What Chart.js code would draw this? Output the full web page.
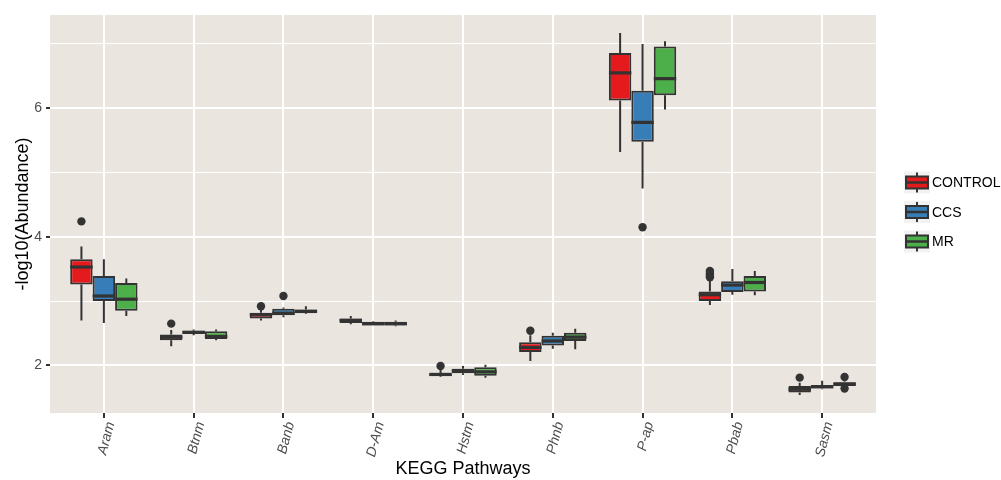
<!DOCTYPE html>
<html><head><meta charset="utf-8">
<script src="https://cdn.jsdelivr.net/npm/chart.js@4"></script>
<style>html,body{margin:0;padding:0;background:#fff}#wrap{width:1001px;height:480px;position:relative}</style>
</head><body><div id="wrap"><canvas id="c" width="1001" height="480"></canvas></div>
<script>
const categories = ['Aram','Btnm','Banb','D-Am','Hstm','Phnb','P-ap','Pbab','Sasm'];
const seriesNames = ['CONTROL','CCS','MR'];
const seriesColors = ['#E41A1C','#377EB8','#4DAF4A'];
const yTicks = [2,3,4,5,6,7];
// each entry: [lower whisker, Q1, median, Q3, upper whisker]
const controlStats = [
  [2.70,3.26,3.53,3.65,3.85],[2.30,2.39,2.44,2.48,2.55],[2.70,2.73,2.79,2.82,2.86],
  [2.64,2.66,2.70,2.73,2.77],[1.82,1.83,1.86,1.88,1.93],[2.07,2.21,2.28,2.36,2.47],
  [5.32,6.12,6.55,6.86,7.17],[2.94,3.00,3.10,3.15,3.33],[1.54,1.58,1.63,1.68,1.73]];
const ccsStats = [
  [2.66,3.00,3.08,3.39,3.65],[2.47,2.49,2.515,2.54,2.56],[2.75,2.78,2.81,2.88,2.90],
  [2.62,2.62,2.65,2.68,2.69],[1.85,1.88,1.92,1.95,1.99],[2.26,2.31,2.38,2.46,2.51],
  [4.75,5.48,5.78,6.27,7.00],[3.10,3.14,3.25,3.31,3.50],[1.63,1.64,1.67,1.69,1.76]];
const mrStats = [
  [2.77,2.85,3.03,3.28,3.35],[2.39,2.41,2.45,2.53,2.56],[2.80,2.81,2.84,2.87,2.92],
  [2.61,2.62,2.65,2.68,2.70],[1.81,1.84,1.90,1.97,2.01],[2.25,2.38,2.44,2.51,2.57],
  [5.98,6.20,6.46,6.96,7.04],[3.09,3.15,3.29,3.39,3.47],[1.68,1.68,1.71,1.74,1.75]];
const controlOutliers = [[4.24],[2.65],[2.92],[],[1.99],[2.54],[],[3.37,3.40,3.43,3.47],[1.81]];
const ccsOutliers = [[],[],[3.08],[],[],[],[4.15],[],[]];
const mrOutliers = [[],[],[],[],[],[],[],[],[1.82,1.64]];

const allStats = [controlStats, ccsStats, mrStats];
const allOutliers = [controlOutliers, ccsOutliers, mrOutliers];
const FONT = "'Liberation Sans', Arial, sans-serif";
const EDGE = '#333333';

const datasets = seriesNames.map((name, s) => ({
  label: name,
  data: categories.map((c, i) => ({x: i, y: [allStats[s][i][1], allStats[s][i][3]]})),
  stats: allStats[s],
  outliers: allOutliers[s],
  backgroundColor: seriesColors[s],
  borderColor: EDGE,
  borderWidth: 2,
  borderSkipped: false,
  categoryPercentage: 0.75,
  barPercentage: 1.0
}));

const panelBg = {
  id: 'panelBg',
  beforeDraw(chart) {
    const a = chart.chartArea, ctx = chart.ctx;
    ctx.save();
    ctx.fillStyle = '#EBE5E0';
    ctx.fillRect(a.left, a.top, a.right - a.left, a.bottom - a.top);
    ctx.restore();
  }
};

const boxExtras = {
  id: 'boxExtras',
  afterDatasetsDraw(chart) {
    const ctx = chart.ctx, ys = chart.scales.y;
    chart.data.datasets.forEach((ds, d) => {
      const meta = chart.getDatasetMeta(d);
      meta.data.forEach((el, j) => {
        const st = ds.stats[j];
        const x = el.x, w = el.width;
        ctx.save();
        ctx.strokeStyle = EDGE;
        ctx.lineWidth = 2;
        ctx.beginPath();
        ctx.moveTo(x, ys.getPixelForValue(st[3]));
        ctx.lineTo(x, ys.getPixelForValue(st[4]));
        ctx.moveTo(x, ys.getPixelForValue(st[1]));
        ctx.lineTo(x, ys.getPixelForValue(st[0]));
        ctx.stroke();
        ctx.lineWidth = 3.2;
        ctx.beginPath();
        const ym = ys.getPixelForValue(st[2]);
        ctx.moveTo(x - w / 2, ym);
        ctx.lineTo(x + w / 2, ym);
        ctx.stroke();
        ctx.fillStyle = EDGE;
        ds.outliers[j].forEach(v => {
          ctx.beginPath();
          ctx.arc(x, ys.getPixelForValue(v), 4.2, 0, Math.PI * 2);
          ctx.fill();
        });
        ctx.restore();
      });
    });
  }
};

const boxLegend = {
  id: 'boxLegend',
  afterDraw(chart) {
    const a = chart.chartArea, ctx = chart.ctx;
    const kx = a.right + 28, cy = (a.top + a.bottom) / 2 - 2;
    const step = 29.5;
    ctx.save();
    seriesNames.forEach((name, i) => {
      const ky = cy + (i - 1) * step;
      ctx.fillStyle = '#F2F2F2';
      ctx.fillRect(kx, ky - 11, 26, 22);
      ctx.strokeStyle = EDGE;
      ctx.lineWidth = 2;
      ctx.beginPath();
      ctx.moveTo(kx + 13, ky - 10); ctx.lineTo(kx + 13, ky + 10);
      ctx.stroke();
      ctx.fillStyle = seriesColors[i];
      ctx.fillRect(kx + 2, ky - 6, 22, 12);
      ctx.strokeRect(kx + 2, ky - 6, 22, 12);
      ctx.lineWidth = 2.5;
      ctx.beginPath();
      ctx.moveTo(kx + 2, ky); ctx.lineTo(kx + 24, ky);
      ctx.stroke();
      ctx.fillStyle = '#000';
      ctx.font = '14px ' + FONT;
      ctx.textBaseline = 'middle';
      ctx.textAlign = 'left';
      ctx.fillText(name, kx + 28, ky + 1);
    });
    ctx.restore();
  }
};

new Chart(document.getElementById('c'), {
  type: 'bar',
  data: {datasets},
  options: {
    responsive: false,
    animation: false,
    layout: {padding: {top: 15, right: 125, left: 0, bottom: 0}},
    plugins: {legend: {display: false}, tooltip: {enabled: false}},
    scales: {
      x: {
        type: 'linear', min: -0.6, max: 8.6, offset: false,
        afterBuildTicks: s => { s.ticks = categories.map((c, i) => ({value: i})); },
        afterFit: s => { s.height = 67; },
        ticks: {
          callback: v => categories[v],
          font: {family: FONT, size: 14, style: 'italic'},
          color: '#4D4D4D', minRotation: 75, maxRotation: 75, autoSkip: false,
          padding: 2, labelOffset: 7
        },
        grid: {offset: false, color: '#FFFFFF', lineWidth: 2, tickColor: EDGE, tickLength: 5},
        border: {display: false},
        title: {display: true, text: 'KEGG Pathways', color: '#000',
          font: {family: FONT, size: 18}, padding: {top: 0, bottom: 0}}
      },
      y: {
        min: 1.26, max: 7.45,
        afterBuildTicks: s => { s.ticks = yTicks.map(v => ({value: v})); },
        afterFit: s => { s.width = 50; },
        ticks: {
          callback: v => (v % 2 === 0 ? String(v) : ''),
          font: {family: FONT, size: 14}, color: '#4D4D4D', padding: 4
        },
        grid: {
          color: '#FFFFFF',
          lineWidth: c => (c.tick && c.tick.value % 2 === 0 ? 2 : 1),
          tickColor: c => (c.tick && c.tick.value % 2 === 0 ? EDGE : 'rgba(0,0,0,0)'),
          tickLength: 4
        },
        border: {display: false},
        title: {display: true, text: '-log10(Abundance)', color: '#000',
          font: {family: FONT, size: 18}, padding: {top: 12, bottom: 0}}
      }
    }
  },
  plugins: [panelBg, boxExtras, boxLegend]
});
</script></body></html>
